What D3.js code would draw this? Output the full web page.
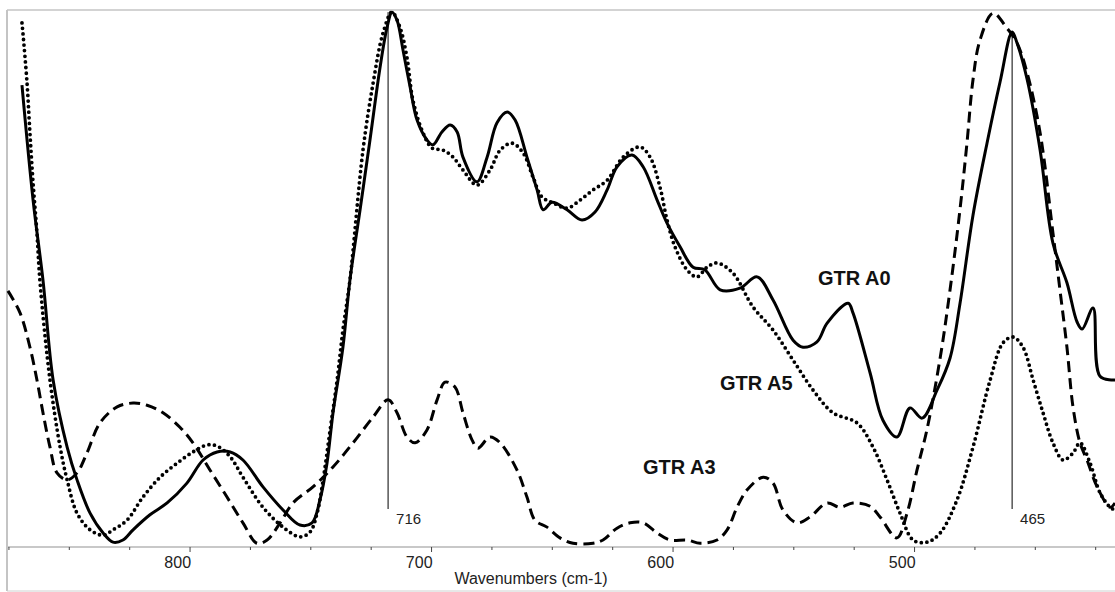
<!DOCTYPE html>
<html>
<head>
<meta charset="utf-8">
<title>FTIR spectra - GTR A0 / A3 / A5</title>
<script src="https://cdn.jsdelivr.net/npm/d3@7"></script>
<style>
  body { margin: 0; background: #fff; }
  svg { display: block; font-family: Arial, "Liberation Sans", sans-serif; }
</style>
</head>
<body>
<script>
// wavenumbers (cm-1) and relative absorbance (%)
const a0Wave = [869.6,865.0,860.9,856.7,850.9,846.8,841.4,836.0,831.9,827.8,
  823.6,816.6,809.5,801.3,794.6,788.8,783.4,778.1,769.8,761.5,
  754.5,749.5,746.2,743.3,740.8,736.7,733.8,729.6,725.5,721.3,
  718.4,716.4,714.3,711.8,708.9,706.0,701.9,699.4,695.7,692.3,
  689.4,687.0,681.2,677.0,672.9,668.7,665.4,660.5,656.3,653.8,
  650.1,643.9,637.7,632.3,627.3,623.2,617.0,612.4,606.6,602.5,
  597.1,591.7,586.8,580.5,572.3,565.2,558.6,550.3,546.2,540.4,
  536.2,527.5,525.5,518.4,513.1,507.3,501.9,496.9,490.7,485.3,
  481.2,475.8,470.0,464.6,459.6,457.6,453.4,448.0,442.7,436.9,
  432.7,430.6,426.1,423.2,417.0];
const a0Abs = [86.0,64.6,49.7,31.1,18.6,12.5,6.3,2.6,0.9,1.3,
  3.2,6.0,8.2,11.9,16.2,17.7,17.7,16.2,11.2,6.9,
  4.1,4.5,8.8,15.6,25.0,37.2,49.7,62.8,75.8,89.4,
  96.8,99.6,98.1,92.5,85.7,79.5,75.8,74.9,77.3,78.6,
  77.3,72.6,68.0,72.6,79.0,81.0,79.5,72.6,66.5,62.8,
  64.2,62.8,60.9,62.4,66.5,70.8,73.0,70.8,64.6,60.3,
  55.9,52.1,51.6,47.9,48.2,50.3,46.0,38.5,37.2,38.2,
  41.7,45.4,43.6,32.4,23.6,20.5,25.9,24.0,29.2,35.2,
  45.3,61.8,75.2,86.6,95.9,93.9,87.1,73.9,56.6,49.2,
  41.9,40.6,44.5,31.8,31.1];

const a5Wave = [869.6,869.2,867.5,866.3,865.0,863.4,862.1,858.0,853.8,850.9,
  846.8,841.4,836.0,831.9,826.1,819.5,812.4,805.4,798.8,793.0,
  788.8,783.4,778.1,769.8,761.5,754.5,750.3,747.4,744.9,742.0,
  739.1,736.7,733.8,728.4,724.2,720.1,716.4,713.1,710.2,707.7,
  703.5,699.8,695.2,691.1,687.0,681.2,675.8,671.6,666.7,662.1,
  658.0,654.3,649.7,643.9,638.5,633.1,627.3,620.7,613.7,609.5,
  605.4,602.5,599.2,594.2,590.1,585.9,581.8,575.2,566.9,558.6,
  550.3,542.0,533.8,523.8,517.2,511.4,506.0,500.6,494.8,489.4,
  482.4,475.8,468.7,463.4,459.2,455.1,450.9,446.8,442.7,438.5,
  434.4,431.5,427.3,423.2,419.0,417.0];
const a5Abs = [97.6,95.7,86.4,77.1,67.8,58.5,49.2,31.1,18.6,12.5,
  6.3,3.2,2.2,3.2,5.0,9.3,13.0,15.6,17.7,19.0,
  18.8,16.8,13.0,7.4,3.7,1.9,2.8,6.3,12.5,21.8,
  31.1,40.4,49.7,73.9,86.4,95.7,99.6,96.8,91.2,83.2,
  77.1,74.3,73.9,72.6,70.2,67.4,70.2,73.9,75.2,73.4,
  68.9,65.2,64.1,63.1,64.6,66.5,68.3,72.6,74.5,72.6,
  67.0,60.9,55.9,51.6,50.3,52.1,52.9,51.0,44.7,40.4,
  34.8,29.2,25.0,23.1,18.6,12.5,6.3,1.3,0.9,2.6,
  8.8,18.6,31.1,38.0,39.1,37.2,31.1,25.0,19.4,16.2,
  17.5,19.4,15.6,10.1,7.4,6.9];

const a3Wave = [875.4,870.4,866.3,863.4,860.9,858.0,855.1,850.9,846.8,842.7,
  837.3,830.2,823.6,817.8,811.2,804.2,798.8,791.7,784.7,778.1,
  772.3,768.1,762.7,757.4,749.1,740.8,732.5,724.2,718.0,714.3,
  710.2,706.8,701.9,697.7,694.4,690.3,687.0,683.2,680.8,675.8,
  671.6,664.6,660.5,657.2,652.2,646.8,641.4,633.1,629.0,623.2,
  617.8,612.4,606.6,601.3,594.2,588.8,581.8,577.6,573.5,569.4,
  562.7,558.6,554.5,548.7,543.3,536.2,530.9,525.5,518.4,514.3,
  507.3,503.1,499.0,494.8,489.4,485.3,481.2,478.3,475.8,472.9,
  467.5,461.7,457.6,453.4,448.0,442.7,439.8,436.9,434.4,431.5,
  428.6,424.4,419.0,417.0];
const a3Abs = [47.7,43.6,37.2,31.1,25.0,18.6,13.8,12.5,13.8,17.5,
  23.1,26.1,26.8,26.4,25.0,22.3,19.4,14.3,9.3,4.5,
  0.7,1.3,4.5,8.2,11.2,14.9,19.4,24.2,27.4,25.0,
  20.5,19.4,21.8,27.4,30.7,29.8,25.0,19.9,18.4,20.5,
  19.4,14.3,9.3,5.0,3.7,1.7,0.7,0.7,1.3,3.5,
  4.5,4.5,2.6,1.3,1.3,0.7,1.3,3.2,7.4,10.6,
  13.0,11.9,6.9,4.5,5.6,8.2,7.4,8.2,7.6,5.6,
  1.7,6.3,14.3,22.0,35.2,47.9,62.8,75.2,87.0,94.4,
  99.4,96.6,93.9,88.3,77.1,58.5,47.9,37.2,26.1,19.4,
  16.2,11.2,7.4,8.2];

const seriesNames = ["GTR A0", "GTR A5", "GTR A3"];
const majorTicks = [800, 700, 600, 500];
const minorTicks = [875, 850, 825, 775, 750, 725, 675, 650, 625, 575, 550, 525, 475, 450, 425];

// marked peaks: line position, printed label, top of the line
const peakPos = [718.0, 459.6];
const peakLabels = ["716", "465"];
const peakTop = [99.6, 95.9];

const width = 1115, height = 592;
const plotLeft = 7, plotTop = 10, axisY = 547;

const x = d3.scaleLinear().domain([875.8, 417.0]).range([plotLeft, width]);
const y = d3.scaleLinear().domain([0, 100]).range([axisY, plotTop]);

const svg = d3.select("body").append("svg")
  .attr("width", width)
  .attr("height", height);

// frame
svg.append("line").attr("x1", plotLeft).attr("x2", width).attr("y1", plotTop).attr("y2", plotTop)
  .attr("stroke", "#c4c4c4").attr("stroke-width", 1.5);
svg.append("line").attr("x1", plotLeft).attr("x2", plotLeft).attr("y1", plotTop).attr("y2", 591)
  .attr("stroke", "#c4c4c4").attr("stroke-width", 2);
svg.append("line").attr("x1", plotLeft).attr("x2", width).attr("y1", 591).attr("y2", 591)
  .attr("stroke", "#d0d0d0").attr("stroke-width", 1);

// x axis
svg.append("line").attr("x1", plotLeft).attr("x2", width).attr("y1", axisY).attr("y2", axisY)
  .attr("stroke", "#c8c8c8").attr("stroke-width", 2);

svg.selectAll("line.minor").data(minorTicks).enter().append("line")
  .attr("class", "minor")
  .attr("x1", d => x(d)).attr("x2", d => x(d))
  .attr("y1", axisY).attr("y2", axisY + 3)
  .attr("stroke", "#444").attr("stroke-width", 1);

svg.selectAll("line.major").data(majorTicks).enter().append("line")
  .attr("class", "major")
  .attr("x1", d => x(d)).attr("x2", d => x(d))
  .attr("y1", axisY).attr("y2", axisY + 5)
  .attr("stroke", "#444").attr("stroke-width", 1);

svg.selectAll("text.tick").data(majorTicks).enter().append("text")
  .attr("class", "tick")
  .attr("x", d => x(d) + 1)
  .attr("y", 568)
  .attr("text-anchor", "end")
  .attr("font-size", 16)
  .attr("fill", "#222")
  .text(d => d);

svg.append("text")
  .attr("x", 531).attr("y", 584)
  .attr("text-anchor", "middle")
  .attr("font-size", 16)
  .attr("fill", "#222")
  .text("Wavenumbers (cm-1)");

// peak marker lines
peakPos.forEach((p, i) => {
  svg.append("line")
    .attr("x1", x(p)).attr("x2", x(p))
    .attr("y1", y(peakTop[i])).attr("y2", 509)
    .attr("stroke", "#000").attr("stroke-width", 1);
  svg.append("text")
    .attr("x", x(p) + 8).attr("y", 524)
    .attr("font-size", 15)
    .attr("fill", "#222")
    .text(peakLabels[i]);
});

// spectra
const line = d3.line()
  .x(d => x(d[0]))
  .y(d => y(d[1]))
  .curve(d3.curveCatmullRom.alpha(0.5));

const series = [
  { data: d3.zip(a0Wave, a0Abs), dash: null, w: 3 },
  { data: d3.zip(a5Wave, a5Abs), dash: "0 5.6", w: 3.8 },
  { data: d3.zip(a3Wave, a3Abs), dash: "11 6", w: 3 }
];

series.forEach(s => {
  svg.append("path")
    .attr("d", line(s.data))
    .attr("fill", "none")
    .attr("stroke", "#000")
    .attr("stroke-width", s.w)
    .attr("stroke-linecap", s.dash && s.dash.startsWith("0 ") ? "round" : "butt")
    .attr("stroke-linejoin", "round")
    .attr("stroke-dasharray", s.dash);
});

// series names, placed next to their curves
const namePos = [[818, 285], [720, 390], [643, 474]];
seriesNames.forEach((n, i) => {
  svg.append("text")
    .attr("x", namePos[i][0]).attr("y", namePos[i][1])
    .attr("font-size", 20)
    .attr("font-weight", "bold")
    .attr("fill", "#111")
    .text(n);
});
</script>
</body>
</html>
